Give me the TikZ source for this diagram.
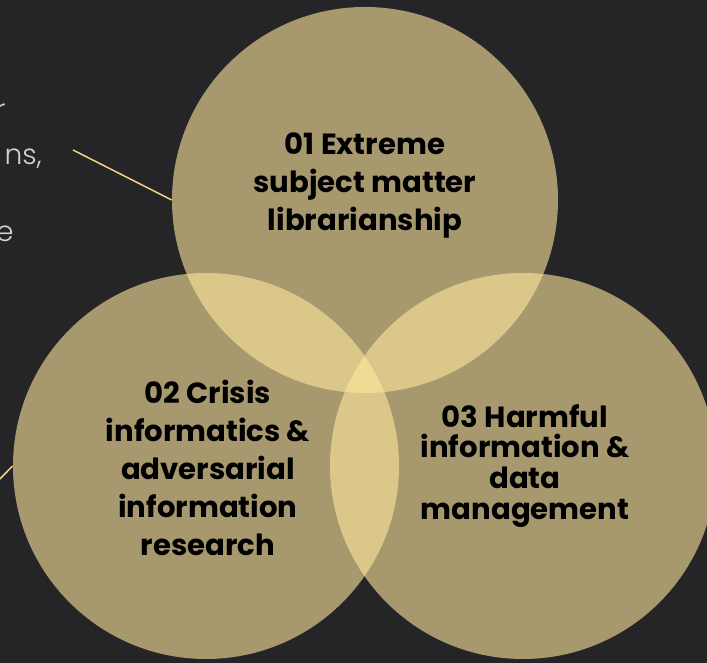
\documentclass[tikz,border=0pt]{standalone}
\usepackage{xcolor}
\usepackage{tikz}
\usepackage{fontspec}
\setmainfont{Poppins}
\newfontfamily\thinfont{Poppins Light}
\definecolor{bgdark}{HTML}{252528}
\definecolor{gold}{HTML}{FFE79C}
\definecolor{linkgold}{HTML}{F2D283}
\definecolor{greytext}{HTML}{D2D2D2}

\begin{document}
\begin{tikzpicture}[
    area/.style={circle, draw=none, fill=gold, fill opacity=0.6, minimum size=7.72cm, inner sep=0pt},
    label/.style={text=black, font=\bfseries\fontsize{16.6}{21.6}\selectfont, align=center},
    cut/.style={text=greytext, font=\thinfont\fontsize{16}{19}\selectfont, anchor=base east, inner sep=0pt},
    link/.style={linkgold, line width=0.85pt}
]
                \useasboundingbox (0,0) rectangle (14.14,13.26);
                \fill[bgdark] (0,0) rectangle (14.14,13.26);
                \node[cut] (t1) at (0.12,10.86) {r};
                \node[cut] (t2) at (0.84,9.96) {ns,};
                \node[cut] (t3) at (0.28,8.43) {e};
                \node[area] (c1) at (7.30,9.26) {};
                \node[area] (c2) at (4.12,3.94) {};
                \node[area] (c3) at (10.46,3.94) {};
                \node[label] (l1) at ([yshift=0.29cm]c1.center) {01 Extreme\\subject matter\\librarianship};
                \node[label] (l2) at ([xshift=0.04cm,yshift=-0.04cm]c2.center) {02 Crisis\\informatics \&\\adversarial\\information\\research};
                \node[label, font=\bfseries\fontsize{16.6}{17.6}\selectfont] (l3) at ([xshift=0.04cm]c3.center) {03 Harmful\\information \&\\data\\management};
                \coordinate (p1) at (1.46,10.26);
                \coordinate (p2) at (-0.40,3.28);
                \draw[link] (p1) -- (c1.180);
                \draw[link] (p2) -- (c2.180);
\end{tikzpicture}
\end{document}
